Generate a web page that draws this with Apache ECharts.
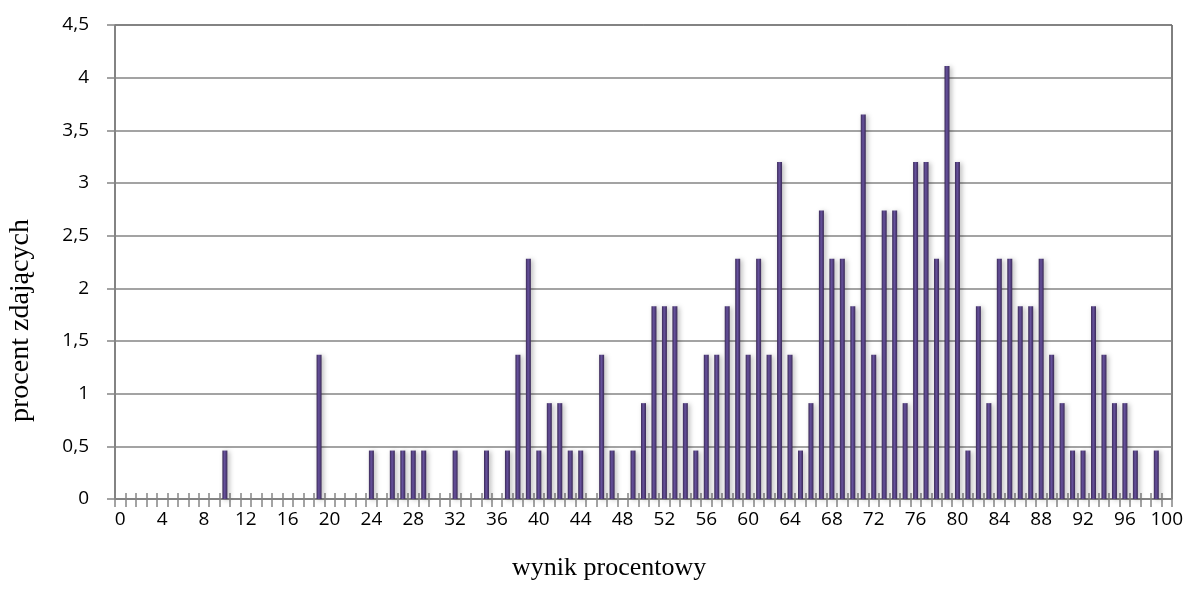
<!DOCTYPE html>
<html>
<head>
<meta charset="utf-8">
<script src="https://cdn.jsdelivr.net/npm/echarts@6/dist/echarts.min.js"></script>
<style>
html,body{margin:0;padding:0;background:#fff;}
#chart{width:1189px;height:601px;}
</style>
</head>
<body>
<div id="chart"></div>
<script>
var categories = ['0','1','2','3','4','5','6','7','8','9','10','11','12','13','14','15','16','17','18','19','20','21','22','23','24','25','26','27','28','29','30','31','32','33','34','35','36','37','38','39','40','41','42','43','44','45','46','47','48','49','50','51','52','53','54','55','56','57','58','59','60','61','62','63','64','65','66','67','68','69','70','71','72','73','74','75','76','77','78','79','80','81','82','83','84','85','86','87','88','89','90','91','92','93','94','95','96','97','98','99','100'];

var percentValues = [
  0, 0, 0, 0, 0, 0, 0, 0, 0, 0,
  0.46, 0, 0, 0, 0, 0, 0, 0, 0, 1.37,
  0, 0, 0, 0, 0.46, 0, 0.46, 0.46, 0.46, 0.46,
  0, 0, 0.46, 0, 0, 0.46, 0, 0.46, 1.37, 2.28,
  0.46, 0.91, 0.91, 0.46, 0.46, 0, 1.37, 0.46, 0, 0.46,
  0.91, 1.83, 1.83, 1.83, 0.91, 0.46, 1.37, 1.37, 1.83, 2.28,
  1.37, 2.28, 1.37, 3.2, 1.37, 0.46, 0.91, 2.74, 2.28, 2.28,
  1.83, 3.65, 1.37, 2.74, 2.74, 0.91, 3.2, 3.2, 2.28, 4.11,
  3.2, 0.46, 1.83, 0.91, 2.28, 2.28, 1.83, 1.83, 2.28, 1.37,
  0.91, 0.46, 0.46, 1.83, 1.37, 0.91, 0.91, 0.46, 0, 0.46,
  0
];

var xTitle = 'wynik procentowy';
var yTitle = 'procent zdających';

var chart = echarts.init(document.getElementById('chart'), null, {renderer: 'canvas'});
var gray = '#858585';
var option = {
  animation: false,
  backgroundColor: '#ffffff',
  grid: {left: 115, right: 17, top: 25, bottom: 102, show: true, borderColor: '#000000', borderWidth: 1, backgroundColor: 'transparent'},
  xAxis: [{
    type: 'category',
    data: categories,
    boundaryGap: true,
    position: 'bottom',
    axisLine: {show: true, lineStyle: {color: gray, width: 1.5}},
    axisTick: {show: true, interval: 0, inside: false, length: 8, lineStyle: {color: gray, width: 1.5}},
    axisLabel: {interval: 3, margin: 11, color: '#000', fontFamily: 'Open Sans', fontSize: 19},
    splitLine: {show: false}
  }, {
    type: 'category',
    data: categories,
    boundaryGap: true,
    position: 'bottom',
    offset: 0,
    axisLine: {show: false},
    axisTick: {show: true, interval: 0, inside: true, length: 6, lineStyle: {color: gray, width: 1.5}},
    axisLabel: {show: false},
    splitLine: {show: false}
  }],
  yAxis: {
    type: 'value',
    min: 0,
    max: 4.5,
    interval: 0.5,
    axisLine: {show: true, lineStyle: {color: gray, width: 1.5}},
    axisTick: {show: true, inside: false, length: 8, lineStyle: {color: gray, width: 1.5}},
    axisLabel: {margin: 26, color: '#000', fontFamily: 'Open Sans', fontSize: 19,
      formatter: function (v) { return String(v).replace('.', ','); }},
    splitLine: {show: true, lineStyle: {color: gray, width: 1.5}}
  },
  series: [{
    type: 'bar',
    data: percentValues,
    xAxisIndex: 0,
    barWidth: 5,
    itemStyle: {
      color: new echarts.graphic.LinearGradient(0, 0, 1, 0, [
        {offset: 0, color: '#3a2956'},
        {offset: 0.45, color: '#67529e'},
        {offset: 1, color: '#3a2956'}
      ]),
      shadowBlur: 5,
      shadowColor: 'rgba(0,0,0,0.28)',
      shadowOffsetX: 2,
      shadowOffsetY: 1
    }
  }],
  graphic: [{
    type: 'text',
    left: 512,
    top: 555,
    style: {text: xTitle, fontFamily: 'Liberation Serif', fontSize: 26, fill: '#000'}
  }, {
    type: 'text',
    x: 7,
    y: 422,
    rotation: Math.PI / 2,
    style: {text: yTitle, fontFamily: 'Liberation Serif', fontSize: 28, fill: '#000', textAlign: 'left', textVerticalAlign: 'top'}
  }]
};
chart.setOption(option);
</script>
</body>
</html>
